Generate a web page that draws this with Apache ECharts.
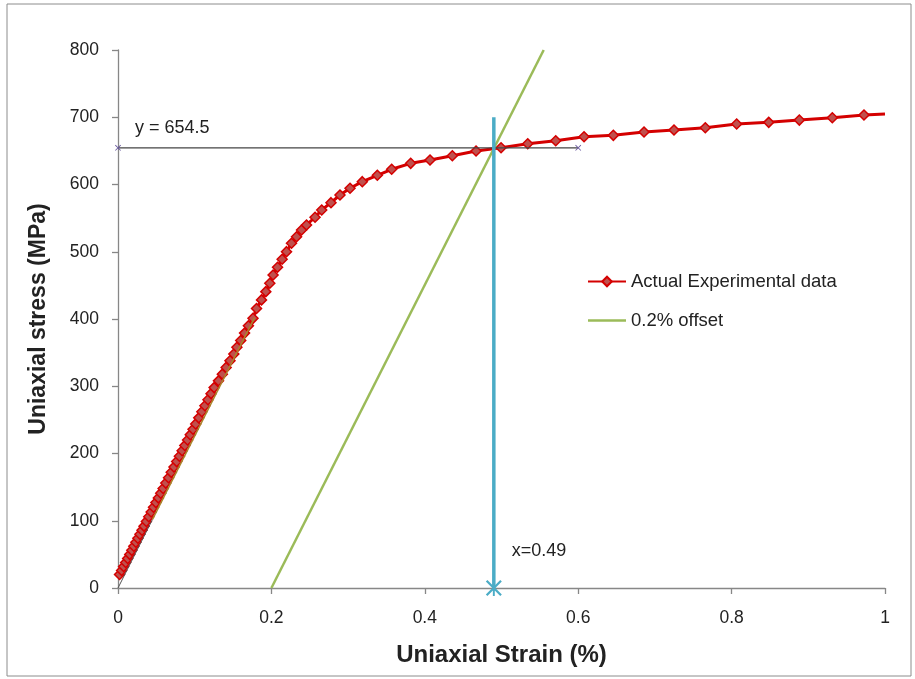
<!DOCTYPE html>
<html>
<head>
<meta charset="utf-8">
<script src="https://cdn.jsdelivr.net/npm/echarts@6/dist/echarts.min.js"></script>
<style>html,body{margin:0;padding:0;background:#fff}#c{width:915px;height:679px}</style>
</head>
<body>
<div id="c"></div>
<script>
// Actual experimental data (strain %, stress MPa)
var strain = [0.0020,0.0047,0.0073,0.0100,0.0126,0.0153,0.0180,0.0206,0.0233,0.0259,0.0286,0.0313,0.0339,0.0370,0.0401,0.0432,0.0463,0.0494,0.0526,0.0557,0.0588,
  0.0623,0.0659,0.0694,0.0730,0.0765,0.0800,0.0836,0.0871,0.0907,0.0942,0.0978,0.1013,0.1053,0.1093,0.1133,0.1173,0.1213,0.1253,
  0.131,0.136,0.141,0.146,0.151,0.155,0.160,0.165,0.170,0.176,
  0.1806,0.1871,0.1927,0.1979,0.2022,0.2080,0.2140,0.2197,0.2262,0.2328,0.2393,0.2458,
  0.2569,0.2656,0.2777,0.2894,0.3025,0.3185,0.3381,0.3568,0.3816,0.4068,0.4359,0.4668,0.4994,0.5342,0.5707,0.6076,
  0.6458,0.6858,0.7249,0.7657,0.8066,0.8484,0.8883,0.9313,0.9726,1.0];
var stress = [20,26,32,38,44,50,56,62,68,74,80,86,92,99,106,113,120,127,134,141,148,
  156,164,172,180,188,196,204,212,220,228,236,244,253,262,271,280,289,298,
  308,318,328,338,348,358,368,379,390,401,
  415.6,428.4,440.7,453.2,465.5,477,488.9,500.1,512.6,522.4,532.4,539.8,
  551.3,562.1,573,584.4,594.4,604.2,613.7,622.6,631.5,636.4,642.8,649.8,654.7,660.6,665.1,671,
  673.1,678,681,684.4,689.9,692.4,695.8,699.3,703.3,705];
// 0.2% offset line
var offsetStrain = [0.2, 0.555];
var offsetStress = [0, 800];
// elastic fit segment
var elasticStrain = [0, 0.045, 0.178];
var elasticStress = [0, 102, 402];
// yield annotations
var yieldStress = 654.5;
var yieldStrainRange = [0, 0.6];
var yieldStrain = 0.49;
var yieldLineStress = [0, 700];
var xTicks = [0, 0.2, 0.4, 0.6, 0.8, 1];
var yTicks = [0, 100, 200, 300, 400, 500, 600, 700, 800];

var FONT = 'Liberation Sans';
var redData = strain.map(function (x, i) {
  var p = {value: [x, stress[i]]};
  if (i === strain.length - 1) p.symbol = 'none';
  return p;
});
var crossPath = 'path://M0,1L1,0L10,9L9,10ZM9,0L10,1L1,10L0,9Z';
var starPath = 'path://M0,1L1,0L10,9L9,10ZM9,0L10,1L1,10L0,9ZM4.4,0L5.6,0L5.6,10L4.4,10Z';

var chart = echarts.init(document.getElementById('c'));
chart.setOption({
  animation: false,
  backgroundColor: '#fff',
  textStyle: {fontFamily: FONT},
  grid: {left: 118, right: 30, top: 50, bottom: 91},
  graphic: [{type: 'rect', shape: {x: 7, y: 4, width: 904, height: 672},
    style: {fill: 'none', stroke: '#8c8c8c', lineWidth: 1}, silent: true, z: -1}],
  legend: {
    orient: 'vertical', left: 582, top: 267, itemWidth: 38, itemHeight: 12, itemGap: 20,
    itemTextGap: 9,
    textStyle: {fontFamily: FONT, fontSize: 18.5, color: '#222'},
    data: ['Actual Experimental data',
      {name: '0.2% offset', icon: 'path://M0,0L38,0L38,2.6L0,2.6Z'}]
  },
  xAxis: {
    type: 'value', min: xTicks[0], max: xTicks[xTicks.length - 1], interval: 0.2,
    name: 'Uniaxial Strain (%)', nameLocation: 'middle', nameGap: 55,
    nameTextStyle: {fontFamily: FONT, fontSize: 24, fontWeight: 'bold', color: '#222'},
    axisLine: {lineStyle: {color: '#878787', width: 1.3}},
    axisTick: {inside: false, length: 6, lineStyle: {color: '#878787', width: 1.3}},
    axisLabel: {fontSize: 17.5, color: '#222', margin: 21, fontFamily: FONT},
    splitLine: {show: false}
  },
  yAxis: {
    type: 'value', min: yTicks[0], max: yTicks[yTicks.length - 1], interval: 100,
    name: 'Uniaxial stress (MPa)', nameLocation: 'middle', nameGap: 68,
    nameTextStyle: {fontFamily: FONT, fontSize: 23, fontWeight: 'bold', color: '#222'},
    axisLine: {show: true, lineStyle: {color: '#878787', width: 1.3}},
    axisTick: {show: true, inside: false, length: 6, lineStyle: {color: '#878787', width: 1.3}},
    axisLabel: {fontSize: 17.5, color: '#222', margin: 19, fontFamily: FONT},
    splitLine: {show: false}
  },
  series: [
    {
      name: 'Actual Experimental data', type: 'line', z: 2,
      data: redData, symbol: 'diamond', symbolSize: 10,
      lineStyle: {color: '#d40000', width: 3},
      itemStyle: {color: '#c0504d', borderColor: '#d40000', borderWidth: 1.5}
    },
    {
      name: 'elastic', type: 'line', z: 4, symbol: 'none',
      data: elasticStrain.slice(0, 2).map(function (x, i) { return [x, elasticStress[i]]; }),
      lineStyle: {color: '#555555', width: 1}
    },
    {
      name: 'elastic2', type: 'line', z: 4, symbol: 'none',
      data: elasticStrain.slice(1).map(function (x, i) { return [x, elasticStress[i + 1]]; }),
      lineStyle: {color: '#a8862c', width: 1.5}
    },
    {
      name: '0.2% offset', type: 'line', z: 3, symbol: 'none',
      data: offsetStrain.map(function (x, i) { return [x, offsetStress[i]]; }),
      lineStyle: {color: '#9bbb59', width: 2.5},
      itemStyle: {color: '#9bbb59'}
    },
    {
      name: 'yield', type: 'line', z: 3, symbol: crossPath, symbolSize: 6,
      itemStyle: {color: '#6a5aa0'},
      lineStyle: {color: '#444', width: 1.2},
      data: yieldStrainRange.map(function (x, i) {
        var p = {value: [x, yieldStress]};
        if (i === 0) p.label = {show: true, position: 'right', offset: [9, -20],
          formatter: 'y = ' + yieldStress, fontSize: 18, color: '#222', fontFamily: FONT};
        return p;
      })
    },
    {
      name: 'xline', type: 'line', z: 5,
      lineStyle: {color: '#4bacc6', width: 3.5},
      itemStyle: {color: '#4bacc6'},
      data: yieldLineStress.map(function (y, i) {
        var p = {value: [yieldStrain, y]};
        if (i === 0) {
          p.symbol = starPath; p.symbolSize = 16;
          p.label = {show: true, position: 'right', offset: [5, -37],
            formatter: 'x=' + yieldStrain, fontSize: 18, color: '#222', fontFamily: FONT};
        } else {
          p.symbol = 'none';
        }
        return p;
      })
    }
  ]
});
</script>
</body>
</html>
